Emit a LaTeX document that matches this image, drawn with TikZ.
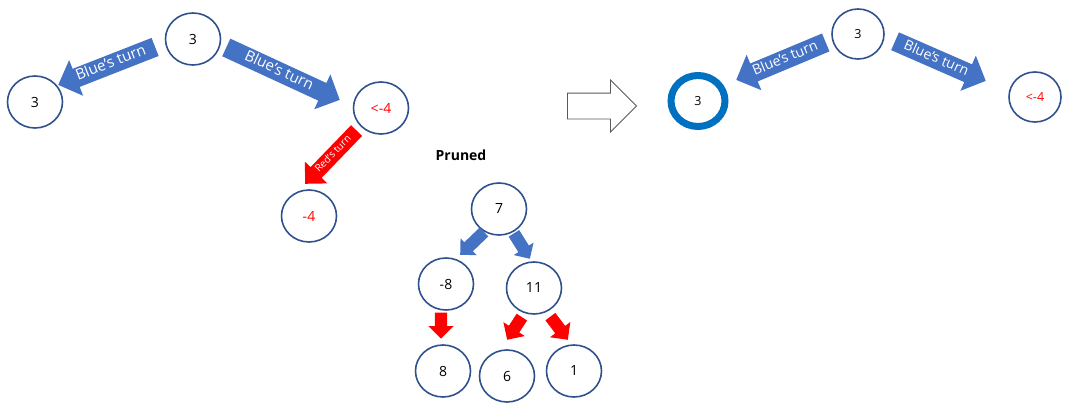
\documentclass[tikz,border=0pt]{standalone}
\usepackage{fontspec}
\setmainfont{Open Sans}
\usetikzlibrary{shapes.geometric,shapes.arrows}
\definecolor{ringblue}{HTML}{2F528F}
\definecolor{turnblue}{HTML}{4472C4}
\definecolor{bestblue}{HTML}{0070C0}
\definecolor{turnred}{HTML}{FF0000}
\definecolor{outlinegray}{HTML}{595959}

\begin{document}
\begin{tikzpicture}[x=1pt,y=-1pt,
    val/.style={ellipse,draw=ringblue,line width=1.6pt,minimum width=55pt,minimum height=52pt,
      inner sep=0pt,font=\fontsize{14}{16}\selectfont},
    small val/.style={val,minimum width=52pt,minimum height=50pt,font=\fontsize{12.5}{14}\selectfont},
    turn/.style={single arrow,draw=none,fill=turnblue,text=white,anchor=tip,inner xsep=0pt,
      inner ysep=3pt,text height=10pt,text depth=3pt,single arrow head extend=9.5pt},
    redturn/.style={turn,fill=turnred,inner ysep=2.5pt,text height=7.5pt,text depth=2.5pt,
      single arrow head extend=8pt,font=\fontsize{10}{11}\selectfont},
    bluestep/.style={single arrow,draw=none,fill=turnblue,anchor=tip,inner sep=6pt,
      text height=0pt,text depth=0pt,single arrow head extend=5.5pt},
    redstep/.style={bluestep,fill=turnred,single arrow head extend=6.5pt}]
  \useasboundingbox (0,0) rectangle (1072,415);

  % before: the search from the root
  \node[val] (root) at (193,39) {3};
  \node[val] (leaf) at (35,102) {3};
  \node[val,text=turnred] (cut) at (381,108) {<-4};
  \node[val,text=turnred] (reply) at (309,216) {-4};
  \node[turn,rotate=21.4,shape border rotate=180,minimum height=104,
    font=\fontsize{15}{17}\selectfont] (rootleaf) at (58,85) {Blue's turn};
  \node[turn,rotate=-24.8,minimum height=125,
    font=\fontsize{15}{17}\selectfont] (rootcut) at (340,100) {Blue's turn};
  \node[redturn,rotate=46,shape border rotate=180,minimum height=74] (cutreply) at (305,184) {Red's turn};

  % the pruned subtree
  \node[font=\bfseries\fontsize{14}{16}\selectfont] (pruned) at (461,155) {Pruned};
  \node[val] (p7) at (499,209) {7};
  \node[val] (pm8) at (446,284) {-8};
  \node[val] (p11) at (534,288) {11};
  \node[val] (p8) at (443,371) {8};
  \node[val] (p6) at (507,376) {6};
  \node[val] (p1) at (574,371) {1};
  \node[bluestep,rotate=223.8,minimum height=33] (p7l) at (460,255) {};
  \node[bluestep,rotate=-57.9,minimum height=30] (p7r) at (530,259) {};
  \node[redstep,rotate=-90,minimum height=26] (pm8d) at (441,339) {};
  \node[redstep,rotate=237,minimum height=27] (p11l) at (507,340) {};
  \node[redstep,rotate=-53,minimum height=29] (p11r) at (568,340) {};

  % result
  \node[single arrow,draw=outlinegray,fill=white,line width=0.8pt,anchor=tip,inner sep=12.5pt,
    text height=0pt,text depth=0pt,single arrow head extend=13pt,minimum height=69] (goes) at (637,106) {};

  % after: the root keeps 3
  \node[small val] (root2) at (858,34) {3};
  \node[small val,draw=bestblue,line width=7pt,minimum width=54pt,minimum height=51pt] (leaf2) at (698,101) {3};
  \node[small val,text=turnred] (cut2) at (1035,97) {<-4};
  \node[turn,rotate=22.7,shape border rotate=180,minimum height=97,
    font=\fontsize{14}{16}\selectfont] (rootleaf2) at (736,80) {Blue's turn};
  \node[turn,rotate=-23.6,minimum height=99,
    font=\fontsize{14}{16}\selectfont] (rootcut2) at (986,81) {Blue's turn};
\end{tikzpicture}
\end{document}
